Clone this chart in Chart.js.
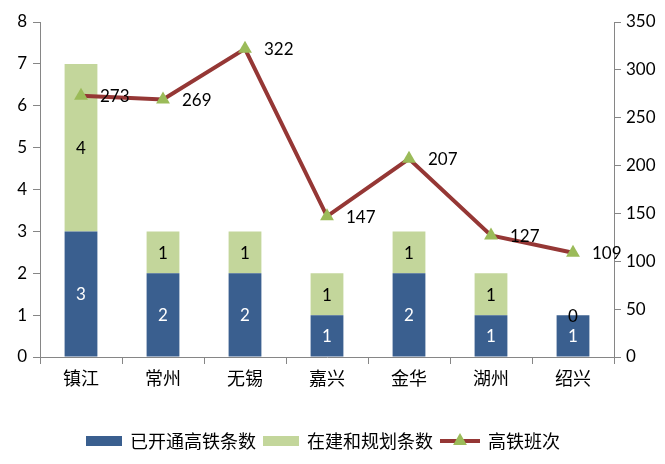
<!DOCTYPE html>
<html>
<head>
<meta charset="utf-8">
<script src="https://cdn.jsdelivr.net/npm/chart.js@4"></script>
<style>
  html, body { margin: 0; padding: 0; background: #ffffff; }
  #wrap { width: 665px; height: 464px; }
</style>
</head>
<body>
<div id="wrap"><canvas id="chart" width="665" height="464"></canvas></div>
<script>
// 城市与数据
const cities = ['镇江', '常州', '无锡', '嘉兴', '金华', '湖州', '绍兴'];
const openedLines = [3, 2, 2, 1, 2, 1, 1];
const plannedLines = [4, 1, 1, 1, 1, 1, 0];
const trainCounts = [273, 269, 322, 147, 207, 127, 109];
const leftTicks = [0, 1, 2, 3, 4, 5, 6, 7, 8];
const rightTicks = [0, 50, 100, 150, 200, 250, 300, 350];

const seriesNames = ['已开通高铁条数', '在建和规划条数', '高铁班次'];

const FONT = '"Lato", "Noto Sans CJK SC", sans-serif';
const BLUE = '#3a5f8f';
const LIGHT_GREEN = '#c3d69b';
const LINE_RED = '#953735';
const TRI_GREEN = '#9bbb59';
const AXIS_GRAY = '#868686';

/** 数据标签：柱内居中，折线点右侧 */
const labelPlugin = {
  id: 'valueLabels',
  afterDatasetsDraw(chart) {
    const ctx = chart.ctx;
    ctx.save();
    ctx.font = '17px ' + FONT;
    ctx.textBaseline = 'middle';
    chart.data.datasets.forEach((ds, i) => {
      const meta = chart.getDatasetMeta(i);
      meta.data.forEach((el, j) => {
        const v = ds.data[j];
        if (ds.type === 'line') {
          ctx.fillStyle = '#000000';
          ctx.textAlign = 'left';
          ctx.fillText(String(v), el.x + 19, el.y + 1);
        } else {
          // 蓝色柱用白字，浅绿柱用黑字
          ctx.fillStyle = i === 1 ? '#ffffff' : '#000000';
          ctx.textAlign = 'center';
          ctx.fillText(String(v), el.x, (el.y + el.base) / 2 + 1);
        }
      });
    });
    ctx.restore();
  }
};

/** 底部图例（折线带三角标记） */
const legendPlugin = {
  id: 'bottomLegend',
  afterDraw(chart) {
    const ctx = chart.ctx;
    const area = chart.chartArea;
    ctx.save();
    ctx.font = '18px ' + FONT;
    ctx.textBaseline = 'middle';
    ctx.textAlign = 'left';
    const items = [
      { kind: 'box', color: BLUE, text: seriesNames[0], w: 36 },
      { kind: 'box', color: LIGHT_GREEN, text: seriesNames[1], w: 36 },
      { kind: 'line', color: LINE_RED, text: seriesNames[2], w: 40 }
    ];
    const gapIn = 8, gapOut = 7;
    let total = 0;
    items.forEach((it, k) => {
      it.tw = ctx.measureText(it.text).width;
      total += it.w + gapIn + it.tw + (k < items.length - 1 ? gapOut : 0);
    });
    let x = (area.left + area.right) / 2 - total / 2 - 4;
    const y = 441;
    items.forEach(it => {
      if (it.kind === 'box') {
        ctx.fillStyle = it.color;
        ctx.fillRect(x, y - 5, it.w, 10);
      } else {
        ctx.strokeStyle = it.color;
        ctx.lineWidth = 4;
        ctx.beginPath();
        ctx.moveTo(x, y);
        ctx.lineTo(x + it.w, y);
        ctx.stroke();
        const cx = x + it.w / 2, r = 8;
        ctx.fillStyle = TRI_GREEN;
        ctx.beginPath();
        ctx.moveTo(cx, y - r);
        ctx.lineTo(cx + r * 0.866, y + r / 2);
        ctx.lineTo(cx - r * 0.866, y + r / 2);
        ctx.closePath();
        ctx.fill();
      }
      x += it.w + gapIn;
      ctx.fillStyle = '#000000';
      ctx.fillText(it.text, x, y + 1);
      x += it.tw + gapOut;
    });
    ctx.restore();
  }
};

new Chart(document.getElementById('chart'), {
  data: {
    labels: cities,
    datasets: [
      {
        type: 'line',
        label: seriesNames[2],
        data: trainCounts,
        yAxisID: 'y1',
        borderColor: LINE_RED,
        borderWidth: 4,
        pointStyle: 'triangle',
        pointRadius: 8,
        pointBackgroundColor: TRI_GREEN,
        pointBorderColor: TRI_GREEN,
        pointBorderWidth: 0,
        tension: 0,
        order: 0
      },
      {
        type: 'bar',
        label: seriesNames[0],
        data: openedLines,
        yAxisID: 'y',
        stack: 'lines',
        backgroundColor: BLUE,
        categoryPercentage: 1,
        barPercentage: 0.4,
        order: 1
      },
      {
        type: 'bar',
        label: seriesNames[1],
        data: plannedLines,
        yAxisID: 'y',
        stack: 'lines',
        backgroundColor: LIGHT_GREEN,
        categoryPercentage: 1,
        barPercentage: 0.4,
        order: 1
      }
    ]
  },
  options: {
    responsive: false,
    animation: false,
    layout: { padding: { top: 22, left: 0, right: 0, bottom: 0 } },
    plugins: {
      legend: { display: false },
      tooltip: { enabled: false }
    },
    scales: {
      x: {
        stacked: true,
        afterFit(scale) { scale.height = 107; },
        grid: {
          offset: true,
          drawOnChartArea: false,
          drawTicks: true,
          tickLength: 7,
          color: AXIS_GRAY
        },
        border: { display: true, color: AXIS_GRAY, width: 1 },
        ticks: {
          color: '#000000',
          padding: 4,
          font: { family: FONT, size: 18 },
          maxRotation: 0,
          autoSkip: false
        }
      },
      y: {
        position: 'left',
        stacked: true,
        min: leftTicks[0],
        max: leftTicks[leftTicks.length - 1],
        afterFit(scale) { scale.width = 40; },
        afterBuildTicks(scale) { scale.ticks = leftTicks.map(v => ({ value: v })); },
        grid: {
          drawOnChartArea: false,
          drawTicks: true,
          tickLength: 7,
          color: AXIS_GRAY
        },
        border: { display: true, color: AXIS_GRAY, width: 1 },
        ticks: {
          color: '#000000',
          padding: 6,
          font: { family: FONT, size: 17 }
        }
      },
      y1: {
        position: 'right',
        min: rightTicks[0],
        max: rightTicks[rightTicks.length - 1],
        afterFit(scale) { scale.width = 51; },
        afterBuildTicks(scale) { scale.ticks = rightTicks.map(v => ({ value: v })); },
        grid: {
          drawOnChartArea: false,
          drawTicks: true,
          tickLength: 7,
          color: AXIS_GRAY
        },
        border: { display: true, color: AXIS_GRAY, width: 1 },
        ticks: {
          color: '#000000',
          padding: 5,
          font: { family: FONT, size: 17 }
        }
      }
    }
  },
  plugins: [labelPlugin, legendPlugin]
});
</script>
</body>
</html>
